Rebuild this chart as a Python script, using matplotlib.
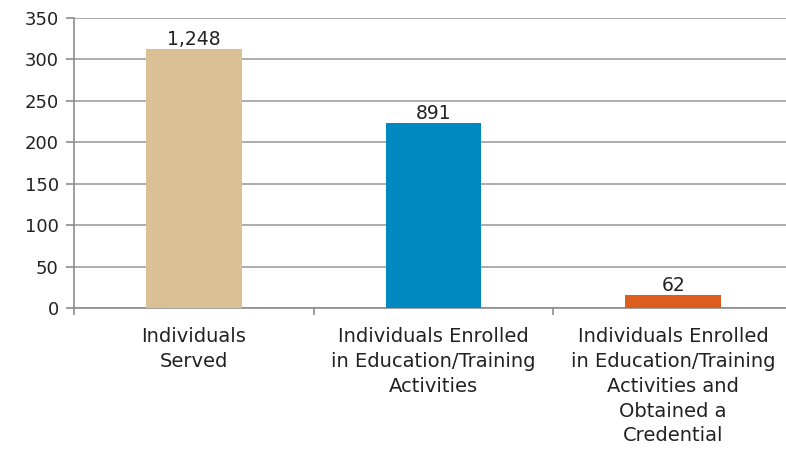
import matplotlib
matplotlib.use("Agg")
import matplotlib.pyplot as plt

plt.rcParams['font.family'] = ['DejaVu Sans']

# participant counts shown above each bar
categories = [
    "Individuals\nServed",
    "Individuals Enrolled\nin Education/Training\nActivities",
    "Individuals Enrolled\nin Education/Training\nActivities and\nObtained a\nCredential",
]
counts = [1248, 891, 62]
colors = ["#dbbf95", "#0088c0", "#dd5d1f"]

# value axis runs at one quarter of the raw counts
scale = 4
heights = [c / scale for c in counts]

fig = plt.figure(figsize=(7.86, 4.51), dpi=100)
ax = fig.add_axes([74 / 786, 143 / 451, 719 / 786, 290 / 451])

x = list(range(len(counts)))
bars = ax.bar(x, heights, width=0.4, color=colors, zorder=3)

for b, c in zip(bars, counts):
    ax.annotate(f"{c:,}", (b.get_x() + b.get_width() / 2, b.get_height()),
                xytext=(0, 0), textcoords="offset points",
                ha="center", va="bottom", fontsize=13.5, color="#222222")

ax.set_xlim(-0.5, 2.5)
ax.set_ylim(0, 350)
ax.set_yticks(range(0, 351, 50))
ax.yaxis.grid(True, color="#a6a6a6", linewidth=1.3, zorder=0)

ax.set_xticks(x)
ax.set_xticklabels(categories, fontsize=14, color="#222222", linespacing=1.38)
ax.set_xticks([-0.5, 0.5, 1.5], minor=True)
ax.tick_params(axis="x", which="major", length=0, pad=14)
ax.tick_params(axis="x", which="minor", length=5, width=1.2, color="#8c8c8c")
ax.tick_params(axis="y", length=6, width=1.2, color="#8c8c8c",
               labelsize=13, labelcolor="#222222", pad=5)

for side in ["top", "right"]:
    ax.spines[side].set_visible(False)
for side in ["left", "bottom"]:
    ax.spines[side].set_color("#8c8c8c")
    ax.spines[side].set_linewidth(1.2)

fig.savefig("out.png", dpi=100)
